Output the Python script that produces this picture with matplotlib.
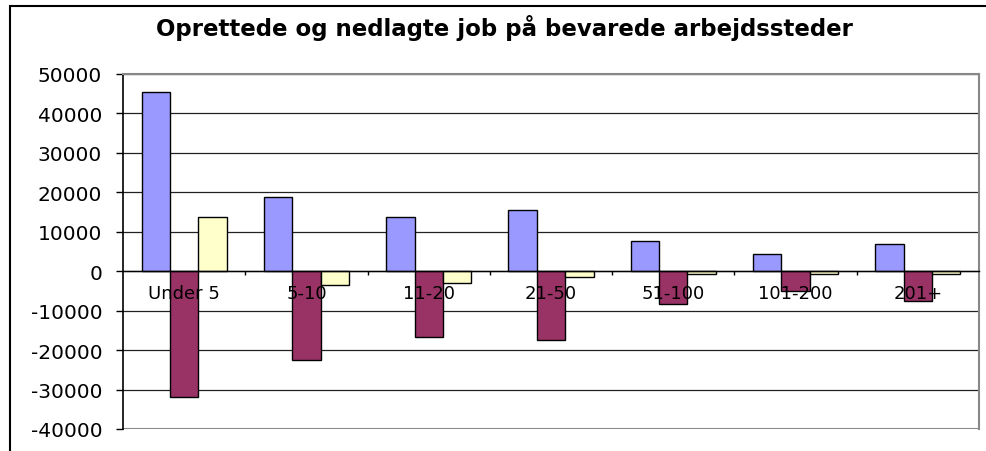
import numpy as np
import matplotlib.pyplot as plt
from matplotlib.patches import Rectangle

categories = ['Under 5', '5-10', '11-20', '21-50', '51-100', '101-200', '201+']
oprettede = [45500, 18800, 13800, 15600, 7700, 4400, 6900]
nedlagte = [-31800, -22400, -16600, -17400, -8300, -5000, -7500]
netto = [13700, -3600, -2900, -1400, -700, -700, -700]

colors = ['#9999FF', '#993366', '#FFFFCC']
title = 'Oprettede og nedlagte job på bevarede arbejdssteder'

plt.rcParams['font.family'] = 'DejaVu Sans'

fig = plt.figure(figsize=(9.86, 4.52), dpi=100)
ax = fig.add_axes([123 / 986, 22 / 452, 856 / 986, 355 / 452])

x = np.arange(len(categories))
w = 0.232
for i, (vals, c) in enumerate(zip([oprettede, nedlagte, netto], colors)):
    ax.bar(x + (i - 1) * w, vals, width=w, color=c, edgecolor='black',
           linewidth=1.0, zorder=1)

ax.set_xlim(-0.5, len(categories) - 0.5)
ax.set_ylim(-40000, 50000)
yt = np.arange(-40000, 50001, 10000)
ax.set_yticks(yt)
ax.set_yticklabels([str(v) for v in yt])
for v in yt:
    ax.axhline(v, color='#222222', linewidth=0.9, zorder=0.5)
ax.axhline(-40000, color='#888888', linewidth=1.5, zorder=0.6)

# x axis sits on the zero line
ax.spines['bottom'].set_position(('data', 0))
ax.spines['bottom'].set_linewidth(1.0)
ax.spines['left'].set_linewidth(1.2)
for s in ['top', 'right']:
    ax.spines[s].set_color('#888888')
    ax.spines[s].set_linewidth(1.5)

ax.set_xticks(x)
ax.set_xticklabels(categories)
ax.set_xticks(np.arange(0.5, len(categories) - 0.5, 1), minor=True)
ax.tick_params(axis='x', which='major', length=0, pad=9, labelsize=13)
ax.tick_params(axis='x', which='minor', length=3, direction='out', width=1)
ax.tick_params(axis='y', length=5, width=1, pad=10, labelsize=14.5)

fig.text(504 / 986, 1 - 36 / 452, title, ha='center', va='baseline',
         fontsize=16.5, fontweight='bold')

# outer chart frame (cropped on the right and bottom)
fig.patches.append(Rectangle((10 / 986, -0.2), 1.2, 0.2 + 1 - 7 / 452,
                             transform=fig.transFigure, fill=False,
                             edgecolor='black', linewidth=1.5))

fig.savefig('out.png', dpi=100)
